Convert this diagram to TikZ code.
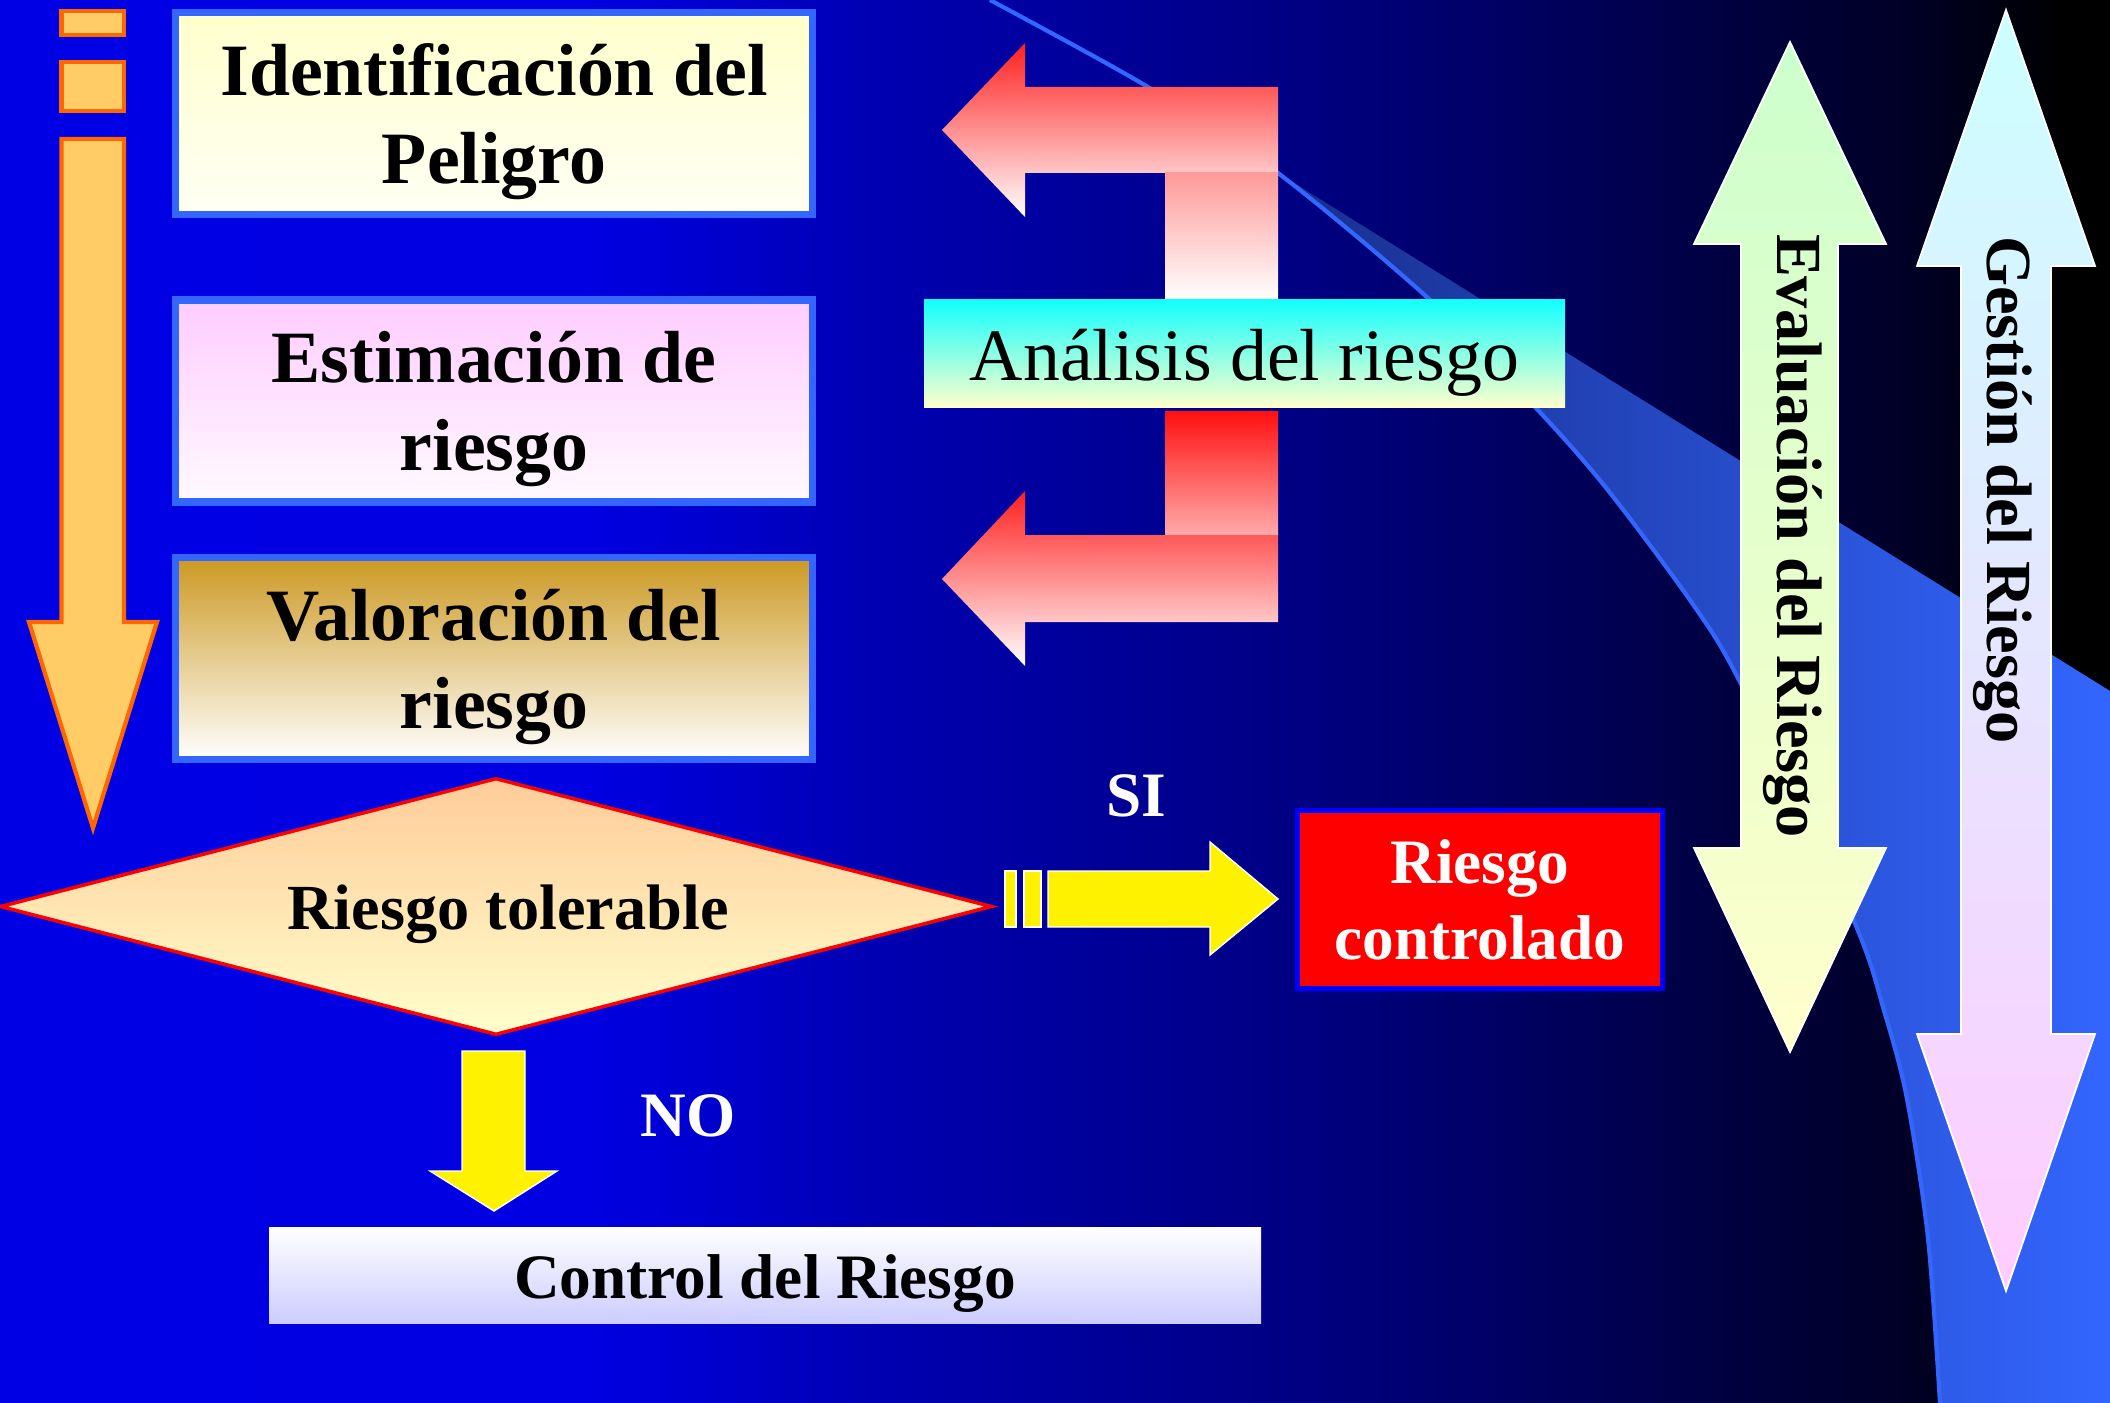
\documentclass[tikz,border=0pt]{standalone}
\usepackage{fontspec}
\setmainfont{Liberation Serif}
\usetikzlibrary{shapes.geometric}

\definecolor{bgblue}{RGB}{0,0,235}
\definecolor{swoosh}{RGB}{51,102,255}
\definecolor{boxedge}{RGB}{51,102,255}
\definecolor{bandleft}{RGB}{24,46,140}
\definecolor{bandmid}{RGB}{42,76,196}
\definecolor{ofill}{RGB}{255,204,102}
\definecolor{oline}{RGB}{255,102,0}
\definecolor{redtop}{RGB}{255,32,32}
\definecolor{pinktop}{RGB}{255,153,153}
\definecolor{pinkbot}{RGB}{255,170,170}
\definecolor{idtop}{RGB}{255,255,204}
\definecolor{idbot}{RGB}{255,255,245}
\definecolor{esttop}{RGB}{255,204,255}
\definecolor{estbot}{RGB}{255,250,255}
\definecolor{valtop}{RGB}{204,153,34}
\definecolor{toltop}{RGB}{255,204,153}
\definecolor{tolbot}{RGB}{255,255,204}
\definecolor{ctrlbot}{RGB}{204,204,255}
\definecolor{analtop}{RGB}{17,255,255}
\definecolor{analbot}{RGB}{255,255,204}
\definecolor{evaltop}{RGB}{204,255,204}
\definecolor{evalbot}{RGB}{255,255,204}
\definecolor{gesttop}{RGB}{204,255,255}
\definecolor{gestbot}{RGB}{255,204,255}
\definecolor{rcedge}{RGB}{0,0,255}

\pgfdeclarehorizontalshading{bgfade}{100bp}{color(0bp)=(bgblue); color(39bp)=(bgblue!96!black); color(46bp)=(bgblue!75!black); color(56bp)=(bgblue!55!black); color(65bp)=(bgblue!30!black); color(70bp)=(bgblue!17!black); color(74bp)=(black); color(100bp)=(black)}

\tikzset{
  stepbox/.style={draw=boxedge, line width=2pt, minimum width=6.37cm, minimum height=2.02cm, align=center, text depth=0pt, font=\fontsize{21}{25}\selectfont\bfseries},
  yarrow/.style={fill=yellow, draw=white, line width=0.4pt},
  answer/.style={text=white, font=\fontsize{18}{21.6}\selectfont\bfseries},
  sidetext/.style={rotate=-90, font=\fontsize{18.3}{22}\selectfont\bfseries}
}

\begin{document}
\begin{tikzpicture}
\useasboundingbox (0,0) rectangle (21.10,-14.03);
\shade[shading=bgfade] (0,0) rectangle (21.10,-14.03);

% swoosh
\shade[left color=bandleft, middle color=bandmid, right color=swoosh] (12.78,-1.73) -- (21.10,-6.91) -- (21.10,-14.03) -- (19.40,-14.03)
  -- plot[smooth] coordinates {(19.40,-14.03) (19.28,-12.38) (19.07,-10.99) (18.85,-10.14) (18.53,-9.19) (17.41,-6.84) (16.92,-6.03) (16.07,-4.89) (15.36,-4.08) (14.29,-2.99) (12.78,-1.73)} -- cycle;
\draw[swoosh, line width=1.2pt] plot[smooth] coordinates {(9.90,0) (11.48,-0.87) (12.78,-1.73) (14.29,-2.99) (15.36,-4.08) (16.07,-4.89) (16.92,-6.03) (17.41,-6.84) (18.53,-9.19) (18.85,-10.14) (19.07,-10.99) (19.28,-12.38) (19.40,-14.03)};

% left process arrow
\filldraw[fill=ofill, draw=oline, line width=1.2pt] (0.615,-0.11) rectangle (1.24,-0.35);
\filldraw[fill=ofill, draw=oline, line width=1.2pt] (0.615,-0.62) rectangle (1.24,-1.11);
\filldraw[fill=ofill, draw=oline, line width=1.2pt] (0.615,-1.39) -- (1.24,-1.39) -- (1.24,-6.22) -- (1.57,-6.22) -- (0.93,-8.28) -- (0.29,-6.22) -- (0.615,-6.22) -- cycle;

\node[stepbox, top color=idtop, bottom color=idbot] (ident) at (4.94,-1.135) {Identificación del\\Peligro};
\node[stepbox, top color=esttop, bottom color=estbot] (estim) at (4.94,-4.01) {Estimación de\\riesgo};
\node[stepbox, top color=valtop, bottom color=white] (valor) at (4.94,-6.585) {Valoración del\\riesgo};

% analisis arrows
\shade[top color=redtop, bottom color=white] (12.78,-0.87) -- (10.25,-0.87) -- (10.25,-0.43) -- (9.42,-1.30) -- (10.25,-2.17) -- (10.25,-1.73) -- (12.78,-1.73) -- cycle;
\shade[top color=pinktop, bottom color=white] (11.65,-1.73) rectangle (12.78,-2.99);
\shade[top color=red!94!white, bottom color=pinkbot] (11.65,-4.11) rectangle (12.78,-5.35);
\shade[top color=redtop, bottom color=white] (12.78,-5.35) -- (10.25,-5.35) -- (10.25,-4.91) -- (9.42,-5.79) -- (10.25,-6.66) -- (10.25,-6.22) -- (12.78,-6.22) -- cycle;
\node[top color=analtop, bottom color=analbot, minimum width=6.41cm, minimum height=1.08cm, text height=0.54cm, text depth=0pt, font=\fontsize{21}{25}\selectfont] (anal) at (12.445,-3.53) {Análisis del riesgo};

\node[diamond, aspect=3.86, draw=red, line width=1pt, top color=toltop, bottom color=tolbot, minimum width=9.92cm, minimum height=2.57cm, inner sep=0pt] (toler) at (4.96,-9.065) {};
\node[anchor=base, font=\fontsize{18.3}{22}\selectfont\bfseries] (tolertxt) at (5.08,-9.29) {Riesgo tolerable};

% SI
\fill[yarrow] (10.05,-8.71) rectangle (10.16,-9.27);
\fill[yarrow] (10.24,-8.71) rectangle (10.41,-9.27);
\filldraw[yarrow] (10.48,-8.71) -- (12.10,-8.71) -- (12.10,-8.42) -- (12.78,-8.99) -- (12.10,-9.55) -- (12.10,-9.27) -- (10.48,-9.27) -- cycle;
\node[answer] (si) at (11.36,-7.96) {SI};
\node[draw=rcedge, line width=1.5pt, fill=red, minimum width=3.65cm, minimum height=1.78cm, align=center, answer] (rctrl) at (14.80,-8.995) {Riesgo\\controlado};

% NO
\filldraw[yarrow] (4.62,-10.51) -- (5.25,-10.51) -- (5.25,-11.71) -- (5.57,-11.71) -- (4.94,-12.11) -- (4.30,-11.71) -- (4.62,-11.71) -- cycle;
\node[answer] (no) at (6.88,-11.16) {NO};
\node[top color=white, bottom color=ctrlbot, minimum width=9.92cm, minimum height=0.96cm, text height=0.46cm, text depth=0pt, font=\fontsize{18}{21.6}\selectfont\bfseries] (ctrl) at (7.65,-12.75) {Control del Riesgo};

% right double arrows
\shadedraw[top color=evaltop, bottom color=evalbot, draw=white, line width=0.5pt] (17.90,-0.42) -- (18.86,-2.44) -- (18.38,-2.44) -- (18.38,-8.48) -- (18.86,-8.48) -- (17.90,-10.52) -- (16.94,-8.48) -- (17.41,-8.48) -- (17.41,-2.44) -- (16.94,-2.44) -- cycle;
\node[sidetext] (eval) at (17.93,-5.36) {Evaluación del Riesgo};
\shadedraw[top color=gesttop, bottom color=gestbot, draw=white, line width=0.5pt] (20.06,-0.10) -- (20.95,-2.66) -- (20.51,-2.66) -- (20.51,-10.34) -- (20.95,-10.34) -- (20.06,-12.91) -- (19.17,-10.34) -- (19.61,-10.34) -- (19.61,-2.66) -- (19.17,-2.66) -- cycle;
\node[sidetext] (gest) at (20.03,-4.90) {Gestión del Riesgo};
\end{tikzpicture}
\end{document}
